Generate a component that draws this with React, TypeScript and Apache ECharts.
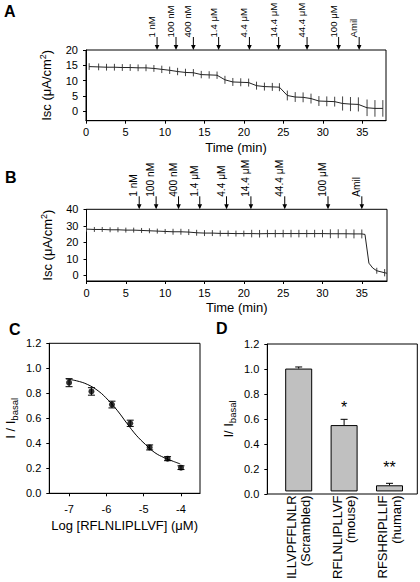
import React, { useEffect, useRef } from "react";
import * as echarts from "echarts";

const FONT = "'Liberation Sans', Arial, Helvetica, sans-serif";

// ---------- Panel A ----------
const aTimes = [0.4, 1.6, 2.6, 3.6, 4.6, 5.6, 6.6, 7.6, 8.6, 9.6, 10.6, 11.6, 12.6, 13.6, 14.6, 15.6, 16.6, 17.6, 18.6, 19.6, 20.6, 21.6, 22.6, 23.6, 24.5, 25.5, 26.5, 27.5, 28.5, 29.5, 30.5, 31.5, 32.5, 33.5, 34.5, 35.6, 36.6, 37.6];
const aIsc = [14.6, 14.5, 14.4, 14.4, 14.3, 14.3, 14.2, 14.2, 14.0, 13.7, 13.4, 13.0, 12.7, 12.6, 12.0, 11.9, 11.8, 10.3, 9.6, 9.5, 9.4, 8.4, 8.1, 8.0, 7.9, 5.2, 4.7, 4.6, 4.2, 3.4, 3.3, 3.2, 2.6, 2.4, 2.3, 1.2, 1.0, 1.0];
const aErr = [1.1, 1.1, 1.1, 1.1, 1.1, 1.1, 1.1, 1.1, 1.1, 1.2, 1.2, 1.2, 1.2, 1.2, 1.2, 1.2, 1.2, 1.3, 1.3, 1.3, 1.3, 1.3, 1.3, 1.3, 1.3, 1.6, 1.6, 1.6, 1.6, 1.6, 1.6, 1.6, 2.3, 2.3, 2.3, 2.7, 2.7, 2.7];
const aAddTimes = [9.0, 11.4, 13.6, 16.8, 20.7, 24.4, 28.0, 32.0, 34.6];

// ---------- Panel B ----------
const bTimes = [0, 1, 2, 3, 4, 5, 6, 7, 8, 9, 10, 11, 12, 13, 14, 15, 16, 17, 18, 19, 20, 21, 22, 23, 24, 25, 26, 27, 28, 29, 30, 31, 32, 33, 34, 35, 35.4, 35.9, 36.4, 36.9, 37.9, 38.2];
const bIsc = [28.0, 27.8, 27.8, 27.6, 27.6, 27.4, 27.4, 27.2, 27.0, 26.8, 26.6, 26.4, 26.4, 26.2, 25.8, 25.6, 25.6, 25.4, 25.4, 25.3, 25.3, 25.3, 25.2, 25.3, 25.3, 25.3, 25.3, 25.3, 25.3, 25.3, 25.3, 25.2, 25.2, 25.2, 25.1, 25.1, 24.8, 7.4, 4.4, 2.8, 1.6, 1.3];
const bErr = [1.5, 1.5, 1.5, 1.5, 1.5, 1.5, 1.5, 1.5, 1.5, 1.5, 1.5, 1.8, 1.8, 1.8, 1.8, 1.8, 1.8, 1.8, 1.8, 1.8, 1.8, 2.3, 2.3, 2.3, 2.3, 2.3, 2.3, 2.3, 2.3, 2.3, 2.3, 2.7, 2.7, 2.7, 2.7, 2.7, null, null, null, 1.8, 2.2, null];
const bAddTimes = [6.7, 8.85, 11.7, 14.4, 17.8, 20.9, 25.2, 30.7, 35.0];

const addLabels = ["1 nM", "100 nM", "400 nM", "1.4 \u03bcM", "4.4 \u03bcM", "14.4 \u03bcM", "44.4 \u03bcM", "100 \u03bcM", "Amil"];
const timeTicks = [0, 5, 10, 15, 20, 25, 30, 35];
const aIscTicks = [0, 5, 10, 15, 20];
const bIscTicks = [0, 10, 20, 30, 40];

// ---------- Panel C ----------
const cLogConc = [-7, -6.4, -5.85, -5.36, -4.84, -4.36, -4];
const cRatio = [0.885, 0.815, 0.71, 0.56, 0.367, 0.277, 0.205];
const cSem = [0.032, 0.03, 0.027, 0.025, 0.02, 0.016, 0.015];
const cFitX = [-7.08, -6.8, -6.5, -6.2, -5.95, -5.7, -5.45, -5.2, -4.95, -4.7, -4.45, -4.2, -4.02];
const cFitY = [0.915, 0.9, 0.87, 0.815, 0.745, 0.66, 0.56, 0.465, 0.39, 0.325, 0.285, 0.255, 0.235];
const cLogTicks = [-7, -6, -5, -4];

// ---------- Panel D ----------
const dPeptides = ["ILLVPFFLNLR\n(Scrambled)", "RFLNLIPLLVF\n(mouse)", "RFSHRIPLLIF\n(human)"];
const dRatio = [1.0, 0.54, 0.05];
const dSem = [0.013, 0.047, 0.016];
const dSig = ["", "*", "**"];

const axisLineStyle = { onZero: false, lineStyle: { color: "#000", width: 1 } };
const tickStyle = { show: true, length: 3, inside: false, lineStyle: { color: "#000", width: 1 } };
const labelBase = { color: "#000", fontSize: 11, fontFamily: FONT };
const nameBase = { color: "#000", fontSize: 13, fontFamily: FONT };

function arrowRender(labels: string[], fontSize: number) {
  return (params: any, api: any) => {
    const t = api.value(0);
    const x = api.coord([t, 0])[0];
    const top = params.coordSys.y;
    return {
      type: "group",
      children: [
        { type: "line", shape: { x1: x, y1: top - 13, x2: x, y2: top - 2 }, style: { stroke: "#000", lineWidth: 1 } },
        { type: "polygon", shape: { points: [[x - 2.3, top - 5], [x + 2.3, top - 5], [x, top]] }, style: { fill: "#000" } },
        {
          type: "text",
          x: x - 0.5,
          y: top - 12.5,
          rotation: Math.PI / 2,
          style: { text: labels[params.dataIndex], fontSize, fontFamily: FONT, fill: "#000", align: "left", verticalAlign: "bottom" },
        },
      ],
    };
  };
}

function errRender(color: string, cap: number, upOnly: boolean) {
  return (params: any, api: any) => {
    const x = api.value(0);
    const y = api.value(1);
    const e = api.value(2);
    if (e == null || isNaN(e)) return null;
    const hi = api.coord([x, y + e]);
    const lo = api.coord([x, upOnly ? y : y - e]);
    const children: any[] = [
      { type: "line", shape: { x1: hi[0], y1: hi[1], x2: lo[0], y2: lo[1] }, style: { stroke: color, lineWidth: 1 } },
    ];
    if (cap > 0) {
      children.push({ type: "line", shape: { x1: hi[0] - cap / 2, y1: hi[1], x2: hi[0] + cap / 2, y2: hi[1] }, style: { stroke: color, lineWidth: 1 } });
      if (!upOnly) children.push({ type: "line", shape: { x1: lo[0] - cap / 2, y1: lo[1], x2: lo[0] + cap / 2, y2: lo[1] }, style: { stroke: color, lineWidth: 1 } });
    }
    return { type: "group", children };
  };
}

function timeXAxis(gridIndex: number, max: number) {
  return {
    type: "value",
    gridIndex,
    min: 0,
    max,
    name: "Time (min)",
    nameLocation: "middle",
    nameGap: 20,
    nameTextStyle: nameBase,
    axisLine: axisLineStyle,
    axisTick: { ...tickStyle, customValues: timeTicks },
    axisLabel: { ...labelBase, margin: 6, customValues: timeTicks },
    splitLine: { show: false },
  };
}

function iscYAxis(gridIndex: number, min: number, max: number, ticks: number[]) {
  return {
    type: "value",
    gridIndex,
    min,
    max,
    name: "Isc (\u03bcA/cm{sup|2})",
    nameLocation: "middle",
    nameGap: 30,
    nameTextStyle: { ...nameBase, lineHeight: 16, rich: { sup: { fontSize: 9, fontFamily: FONT, color: "#000", verticalAlign: "top", lineHeight: 16 } } },
    axisLine: axisLineStyle,
    axisTick: { ...tickStyle, customValues: ticks },
    axisLabel: { ...labelBase, margin: 8, customValues: ticks },
    splitLine: { show: false },
  };
}

const ratioName = (txt: string) => ({
  name: txt + "{sub|basal}",
  nameLocation: "middle",
  nameGap: 30,
  nameTextStyle: { ...nameBase, lineHeight: 18, rich: { sub: { fontSize: 9.5, fontFamily: FONT, color: "#000", verticalAlign: "bottom", lineHeight: 18 } } },
});

export default function App() {
  const ref = useRef<HTMLDivElement>(null);
  useEffect(() => {
    if (!ref.current) return;
    const chart = echarts.init(ref.current, null, { renderer: "svg" });
    const gridBorder = { show: true, borderColor: "#000", borderWidth: 1, backgroundColor: "transparent" };
    const option: any = {
      animation: false,
      backgroundColor: "#fff",
      textStyle: { fontFamily: FONT },
      grid: [
        { left: 86, top: 50, width: 300, height: 70.7, ...gridBorder },
        { left: 86.5, top: 209.3, width: 300.5, height: 71.7, ...gridBorder },
        { left: 49.3, top: 343.3, width: 150.7, height: 150, ...gridBorder },
        { left: 267.3, top: 344, width: 150, height: 150, ...gridBorder },
        { left: 276, top: 344, width: 136.2, height: 150, show: false },
      ],
      xAxis: [
        timeXAxis(0, 38),
        timeXAxis(1, 38.2),
        {
          type: "value",
          gridIndex: 2,
          min: -7.53,
          max: -3.49,
          name: "Log [RFLNLIPLLVF] (\u03bcM)",
          nameLocation: "middle",
          nameGap: 26,
          nameTextStyle: nameBase,
          axisLine: axisLineStyle,
          axisTick: { ...tickStyle, customValues: cLogTicks },
          axisLabel: { ...labelBase, margin: 10, customValues: cLogTicks },
          splitLine: { show: false },
        },
        { type: "value", gridIndex: 3, min: 0, max: 1, show: false },
        {
          type: "category",
          gridIndex: 4,
          data: dPeptides,
          axisLine: { show: false },
          axisTick: { show: false },
          axisLabel: { color: "#000", fontSize: 13, fontFamily: FONT, rotate: 90, margin: 4, lineHeight: 13.5, interval: 0 },
          splitLine: { show: false },
        },
      ],
      yAxis: [
        iscYAxis(0, -3, 20, aIscTicks),
        iscYAxis(1, -3.4, 40, bIscTicks),
        {
          type: "value",
          gridIndex: 2,
          min: 0,
          max: 1.2,
          interval: 0.2,
          ...ratioName("I / I"),
          axisLine: axisLineStyle,
          axisTick: tickStyle,
          axisLabel: { ...labelBase, margin: 8, formatter: (v: number) => v.toFixed(1) },
          splitLine: { show: false },
        },
        {
          type: "value",
          gridIndex: 3,
          min: 0,
          max: 1.2,
          interval: 0.2,
          ...ratioName("I/ I"),
          axisLine: axisLineStyle,
          axisTick: tickStyle,
          axisLabel: { ...labelBase, margin: 8, formatter: (v: number) => v.toFixed(1) },
          splitLine: { show: false },
        },
        { type: "value", gridIndex: 4, min: 0, max: 1.2, show: false },
      ],
      series: [
        // A
        {
          type: "line",
          xAxisIndex: 0,
          yAxisIndex: 0,
          data: aTimes.map((t, i) => [t, aIsc[i]]),
          showSymbol: false,
          lineStyle: { color: "#222", width: 1 },
        },
        {
          type: "custom",
          xAxisIndex: 0,
          yAxisIndex: 0,
          data: aTimes.map((t, i) => [t, aIsc[i], aErr[i]]),
          renderItem: errRender("#444", 0, false),
          clip: false,
        },
        {
          type: "custom",
          xAxisIndex: 0,
          yAxisIndex: 0,
          data: aAddTimes.map((t) => [t, 20]),
          renderItem: arrowRender(addLabels, 9.6),
          clip: false,
        },
        // B
        {
          type: "line",
          xAxisIndex: 1,
          yAxisIndex: 1,
          data: bTimes.map((t, i) => [t, bIsc[i]]),
          showSymbol: false,
          lineStyle: { color: "#222", width: 1 },
        },
        {
          type: "custom",
          xAxisIndex: 1,
          yAxisIndex: 1,
          data: bTimes.map((t, i) => [t, bIsc[i], bErr[i] == null ? NaN : bErr[i]]),
          renderItem: errRender("#444", 0, false),
          clip: false,
        },
        {
          type: "custom",
          xAxisIndex: 1,
          yAxisIndex: 1,
          data: bAddTimes.map((t) => [t, 40]),
          renderItem: arrowRender(addLabels, 10.2),
          clip: false,
        },
        // C
        {
          type: "line",
          xAxisIndex: 2,
          yAxisIndex: 2,
          data: cFitX.map((x, i) => [x, cFitY[i]]),
          smooth: 0.4,
          showSymbol: false,
          lineStyle: { color: "#000", width: 1 },
        },
        {
          type: "custom",
          xAxisIndex: 2,
          yAxisIndex: 2,
          data: cLogConc.map((x, i) => [x, cRatio[i], cSem[i]]),
          renderItem: errRender("#000", 7, false),
        },
        {
          type: "scatter",
          xAxisIndex: 2,
          yAxisIndex: 2,
          data: cLogConc.map((x, i) => [x, cRatio[i]]),
          symbol: "circle",
          symbolSize: 6,
          itemStyle: { color: "#000" },
        },
        // D
        {
          type: "bar",
          xAxisIndex: 4,
          yAxisIndex: 4,
          data: dRatio,
          barWidth: 27,
          itemStyle: { color: "#c0c0c0", borderColor: "#000", borderWidth: 1 },
          label: {
            show: true,
            position: "top",
            distance: 10,
            formatter: (p: any) => dSig[p.dataIndex],
            color: "#000",
            fontSize: 16,
            fontFamily: FONT,
          },
        },
        {
          type: "custom",
          xAxisIndex: 4,
          yAxisIndex: 4,
          data: dRatio.map((v, i) => [i, v, dSem[i]]),
          renderItem: errRender("#000", 7, true),
          z: 3,
        },
      ],
      graphic: [
        { type: "text", left: 4, top: 3, style: { text: "A", fontSize: 16, fontWeight: "bold", fontFamily: FONT, fill: "#000" } },
        { type: "text", left: 5, top: 169, style: { text: "B", fontSize: 16, fontWeight: "bold", fontFamily: FONT, fill: "#000" } },
        { type: "text", left: 9, top: 321, style: { text: "C", fontSize: 16, fontWeight: "bold", fontFamily: FONT, fill: "#000" } },
        { type: "text", left: 216, top: 320, style: { text: "D", fontSize: 16, fontWeight: "bold", fontFamily: FONT, fill: "#000" } },
      ],
    };
    chart.setOption(option);
    return () => chart.dispose();
  }, []);
  return <div ref={ref} style={{ position: "absolute", left: 0, top: 0, width: 420, height: 582, background: "#fff" }} />;
}
